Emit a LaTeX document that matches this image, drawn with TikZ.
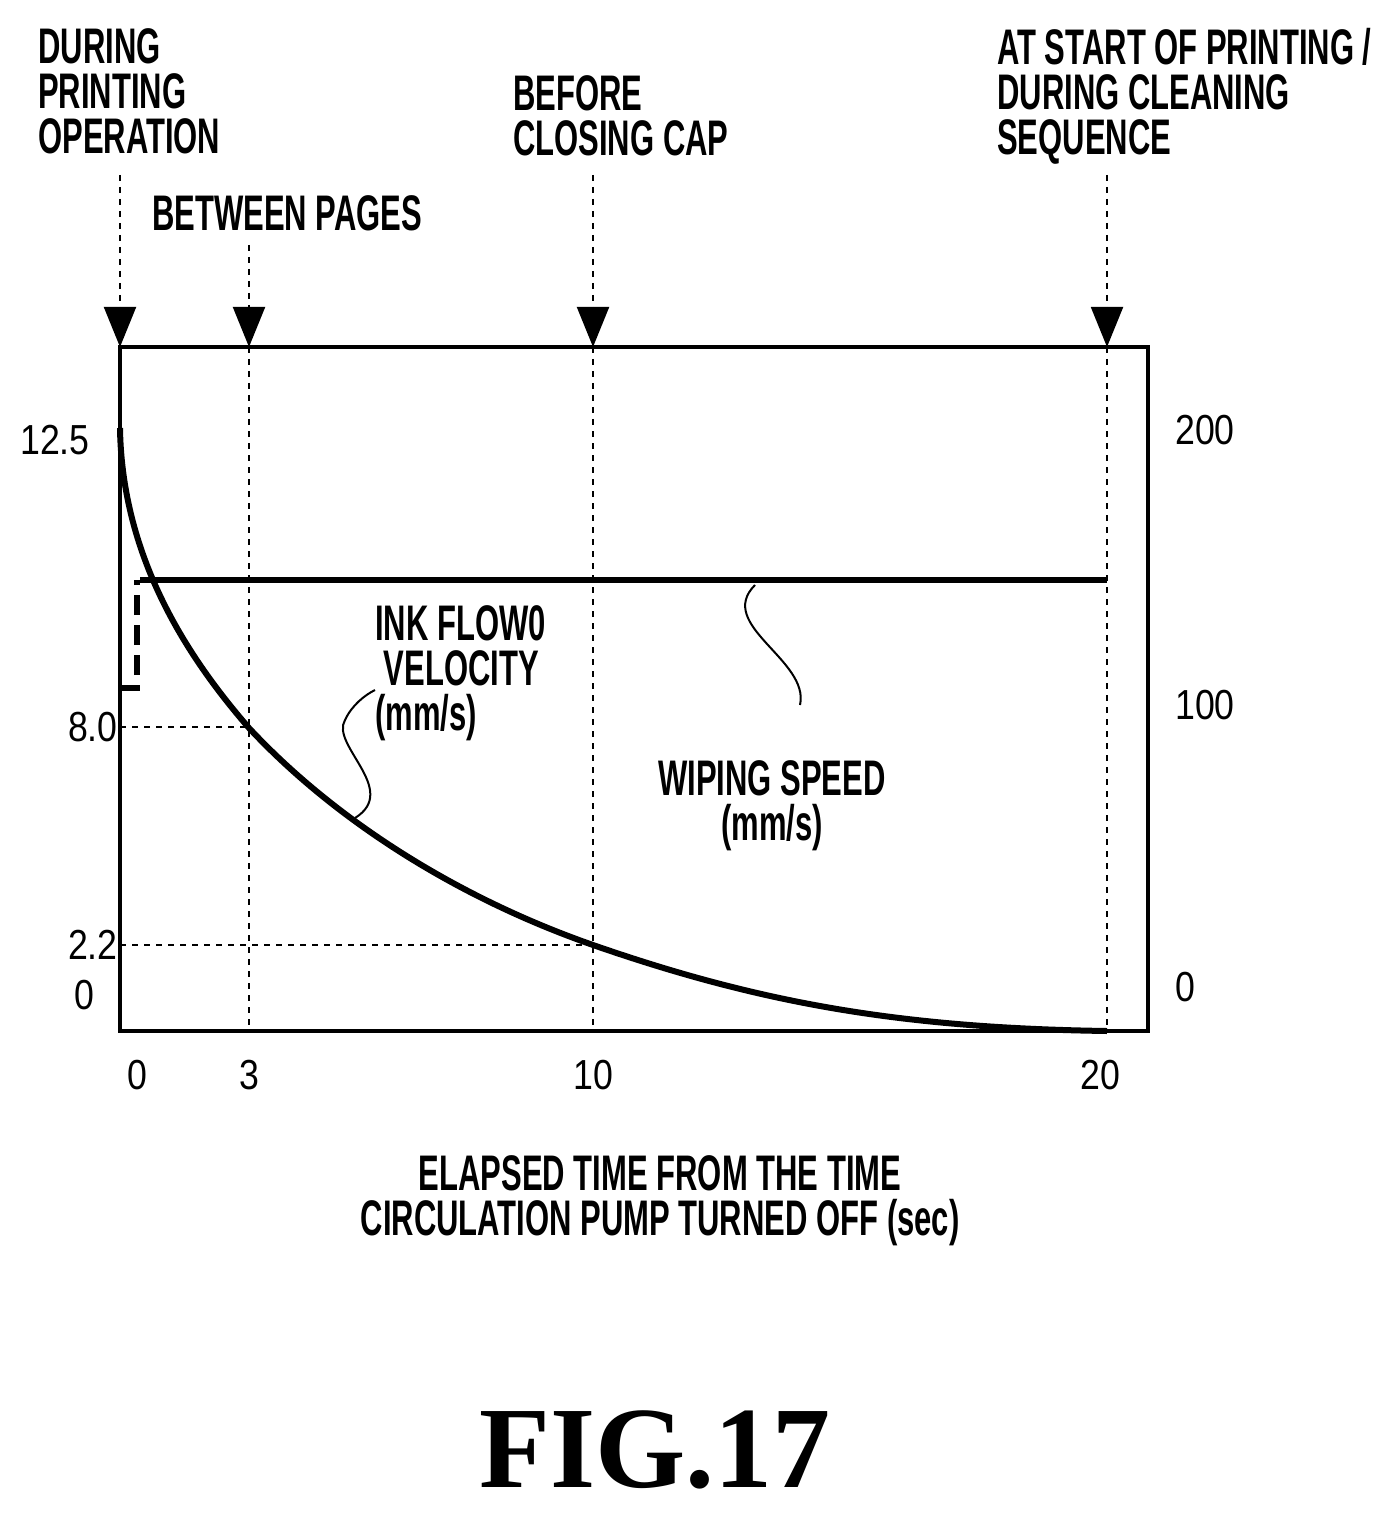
\documentclass[tikz,border=0pt]{standalone}
\usepackage{fontspec}
\setmainfont{Liberation Sans}
\newfontfamily\serifb{Liberation Serif}
\usetikzlibrary{arrows.meta}
\begin{document}
\begin{tikzpicture}[x=0.5pt,y=-0.5pt,
  lbl/.style={font=\fontsize{25}{22.5}\selectfont\bfseries,align=left,inner sep=0,xscale=0.62,transform shape},
  num/.style={font=\fontsize{21}{24}\selectfont,inner sep=0,xscale=0.85},
  guide/.style={dashed,line width=1pt},
  marker/.style={guide,-{Triangle[width=16pt,length=20pt]}},
  thick3/.style={line width=3pt}]
\useasboundingbox (0,0) rectangle (1392,1518);
% box
\draw[line width=1.6pt] (120,347) rectangle (1148,1031);
% top labels
\node[lbl,anchor=north west] (l1) at (38,28) {DURING\\PRINTING\\OPERATION};
\node[lbl,anchor=north west] (l2) at (152,195) {BETWEEN PAGES};
\node[lbl,anchor=north west] (l3) at (513,75) {BEFORE\\CLOSING CAP};
\node[lbl,anchor=north west] (l4) at (997,28) {AT START OF PRINTING /\\DURING CLEANING\\SEQUENCE};
% arrows
\coordinate (a0) at (120,175); \coordinate (b0) at (120,347);
\coordinate (a1) at (249,245); \coordinate (b1) at (249,347);
\coordinate (a2) at (593,175); \coordinate (b2) at (593,347);
\coordinate (a3) at (1107,175); \coordinate (b3) at (1107,347);
\foreach \i in {0,1,2,3} \draw[marker] (a\i) -- (b\i);
\draw[guide] (249,347) -- (249,1031);
\draw[guide] (593,347) -- (593,1031);
\draw[guide] (1107,347) -- (1107,1031);
\draw[guide] (120,727) -- (249,727);
\draw[guide] (120,945) -- (593,945);
% curve
\draw[thick3] (120,428) .. controls (122,560) and (190,660) .. (249,728)
  .. controls (330,815) and (450,895) .. (593,945)
  .. controls (760,1003) and (900,1028) .. (1107,1031);
% wiping line
\draw[thick3] (140,580) -- (1107,580);
\draw[thick3,dash pattern=on 10pt off 5pt] (120,688) -- (137,688) -- (137,580);
% leaders
\draw[line width=1pt] (355,818) .. controls (400,790) and (330,745) .. (345,720) .. controls (352,705) and (365,695) .. (375,690);
\draw[line width=1pt] (755,585) .. controls (715,625) and (810,660) .. (800,705);
\node[lbl,anchor=north west] (ink) at (375,605) {INK FLOW0\\\ VELOCITY\\(mm/s)};
\node[lbl,anchor=north,align=center] (wip) at (772,760) {WIPING SPEED\\(mm/s)};
% left numbers
\node[num,anchor=east] (y1) at (90,440) {12.5};
\node[num,anchor=east] (y2) at (118,727) {8.0};
\node[num,anchor=east] (y3) at (118,945) {2.2};
\node[num,anchor=east] (y4) at (95,995) {0};
% right numbers
\node[num] (r1) at (1205,430) {200};
\node[num] (r2) at (1205,705) {100};
\node[num] (r3) at (1185,987) {0};
% x numbers
\node[num] (x0) at (137,1075) {0};
\node[num] (x1) at (249,1075) {3};
\node[num] (x2) at (593,1075) {10};
\node[num] (x3) at (1100,1075) {20};
\node[lbl,align=center,anchor=north] (xl) at (660,1155) {ELAPSED TIME FROM THE TIME\\CIRCULATION PUMP TURNED OFF (sec)};
\node[inner sep=0] (fig) at (655,1450) {\serifb\fontsize{58}{60}\selectfont\bfseries FIG.17};
\end{tikzpicture}
\end{document}
